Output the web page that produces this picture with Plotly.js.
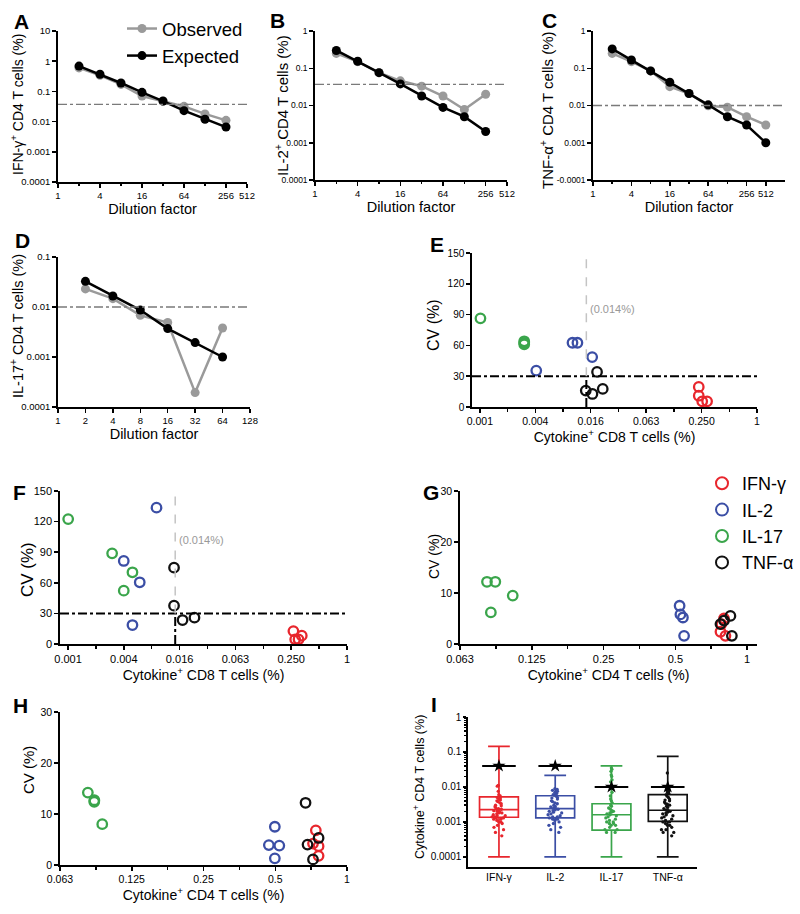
<!DOCTYPE html>
<html><head><meta charset="utf-8">
<script src="https://cdn.plot.ly/plotly-3.0.1.min.js"></script>
<style>body{margin:0;background:#fff}#chart{width:800px;height:914px}</style>
</head><body><div id="chart"></div>
<script>
// ---------- Panels A-D: dilution series ----------
const dilA = [2,4,8,16,32,64,128,256];
const obsA = [0.6,0.34,0.17,0.07,0.047,0.032,0.018,0.011];
const expA = [0.69,0.37,0.19,0.093,0.048,0.023,0.012,0.0066];
const lodA = 0.037;
const dilB = [2,4,8,16,32,64,128,256];
const obsB = [0.25,0.15,0.076,0.046,0.033,0.018,0.0078,0.02];
const expB = [0.30,0.154,0.076,0.038,0.018,0.0089,0.005,0.002];
const lodB = 0.037;
const dilC = [2,4,8,16,32,64,128,256,512];
const obsC = [0.25,0.15,0.085,0.032,0.021,0.0098,0.009,0.005,0.003];
const expC = [0.33,0.166,0.085,0.042,0.021,0.0104,0.005,0.003,0.001];
const lodC = 0.01;
const dilD = [2,4,8,16,32,64];
const obsD = [0.023,0.0147,0.0068,0.0049,0.000194,0.0038];
const expD = [0.0326,0.0166,0.0087,0.0037,0.00194,0.001];
const lodD = 0.01;

// ---------- Panels E-H: CV vs cytokine+ % ----------
const cytokines = ['IFN-γ','IL-2','IL-17','TNF-α'];
const eIFNx = [0.233,0.233,0.254,0.287], eIFNy = [19.6,11,5.5,5.5];
const eIL2x = [0.004,0.0099,0.0112,0.0162], eIL2y = [35.5,62.6,62.6,48.6];
const eIL17x = [0.00099,0.00296,0.00296,0.00296], eIL17y = [86.4,64,62.5,61];
const eTNFx = [0.0138,0.0163,0.0183,0.0211], eTNFy = [16,12.7,34.2,17.6];

const fIFNx = [0.264,0.276,0.3,0.325], fIFNy = [12.7,4.6,4.6,8.2];
const fIL2x = [0.0088,0.0039,0.0058,0.00484], fIL2y = [133.7,81.4,60.5,18.6];
const fIL17x = [0.00098,0.00292,0.00484,0.0039], fIL17y = [122.5,88.9,70.3,52.3];
const fTNFx = [0.0136,0.0136,0.0168,0.0226], fTNFy = [74.8,37.6,23.5,25.8];

const gIFNx = [0.773,0.811,0.80,0.78], gIFNy = [2.4,1.6,5.0,3.9];
const gIL2x = [0.521,0.525,0.538,0.544], gIL2y = [7.5,5.8,5.2,1.6];
const gIL17x = [0.0811,0.0879,0.0842,0.104], gIL17y = [12.2,12.2,6.2,9.5];
const gTNFx = [0.773,0.8,0.851,0.863], gTNFy = [3.9,4.6,5.5,1.6];

const hIFNx = [0.74,0.72,0.76,0.76], hIFNy = [6.8,4.2,3.7,1.8];
const hIL2x = [0.498,0.47,0.52,0.498], hIL2y = [7.5,3.9,3.8,1.3];
const hIL17x = [0.0818,0.0871,0.087,0.094], hIL17y = [14.2,12.7,12.4,8.0];
const hTNFx = [0.67,0.683,0.76,0.72], hTNFy = [12.2,4.0,5.3,1.1];

const cvCut = 30;
const lodCD8 = 0.014;

// ---------- Panel I: box plots ----------
const boxQ1 = [0.00136,0.0013,0.00058,0.00104];
const boxMed = [0.00225,0.0024,0.0016,0.00215];
const boxQ3 = [0.0052,0.0056,0.0033,0.006];
const boxLo = [0.0001,0.0001,0.0001,0.0001];
const boxHi = [0.145,0.0215,0.04,0.075];
const boxRef = [0.04,0.04,0.01,0.01];
const dotsIFN = [0.011,0.0105,0.0075,0.006,0.0055,0.005,0.0048,0.0045,0.0042,0.004,0.0038,0.0035,0.0033,0.003,0.0029,0.0027,0.0025,0.0024,0.0023,0.0022,0.0021,0.0021,0.002,0.0019,0.0018,0.0018,0.0017,0.0016,0.0015,0.0015,0.0014,0.0014,0.0013,0.0013,0.0012,0.0012,0.0011,0.001,0.001,0.0009,0.0008,0.0007,0.0006,0.0005,0.0004];
const dotsIL2 = [0.009,0.0085,0.008,0.0075,0.007,0.0065,0.006,0.0058,0.0055,0.005,0.0048,0.0045,0.004,0.0038,0.0035,0.0033,0.003,0.0028,0.0027,0.0025,0.0024,0.0023,0.0022,0.0021,0.002,0.0019,0.0018,0.0017,0.0016,0.0015,0.0014,0.0014,0.0013,0.0012,0.0012,0.0011,0.001,0.0009,0.0008,0.0007,0.0006,0.0005];
const dotsIL17 = [0.035,0.032,0.028,0.022,0.02,0.016,0.014,0.007,0.0055,0.0045,0.004,0.0035,0.003,0.0028,0.0025,0.0023,0.0021,0.002,0.0019,0.0018,0.0017,0.0016,0.0015,0.0014,0.0013,0.0012,0.0011,0.001,0.001,0.0009,0.0009,0.0008,0.0008,0.0007,0.0006,0.0006,0.0005,0.0005];
const dotsTNF = [0.025,0.01,0.009,0.008,0.0075,0.007,0.0065,0.006,0.0055,0.005,0.0045,0.0042,0.004,0.0037,0.0034,0.0032,0.003,0.0028,0.0026,0.0024,0.0022,0.0021,0.002,0.0019,0.0018,0.0017,0.0016,0.0015,0.0014,0.0013,0.0012,0.0011,0.001,0.001,0.0009,0.0008,0.0008,0.0007,0.0006,0.0006,0.0005,0.0005,0.0004];

// ---------- styling ----------
const F = 'Liberation Sans, Arial, sans-serif';
const COL = {'IFN-γ':'#e8262d','IL-2':'#3b4ea5','IL-17':'#3aa54b','TNF-α':'#111111'};
const GREY = '#9a9a9a';
const W = 800, H = 914;
const dx = (a,b) => [a/W, b/W];
const dy = (t,b) => [1-b/H, 1-t/H];
const tf = s => ({family:F,size:s,color:'#000'});

function ax(o){
  return Object.assign({showline:true, linecolor:'#000', linewidth:1.7, ticks:'outside', ticklen:4,
    tickwidth:1.5, tickcolor:'#000', showgrid:false, zeroline:false, fixedrange:true, tickangle:0,
    tickfont:tf(9.5), automargin:false}, o);
}
function ttl(text,size,standoff){ return {text:text, font:tf(size), standoff:standoff}; }

const traces = [];
function dil(n, xs, obs, exp, leg){
  const xa = 'x'+(n===1?'':n), ya = 'y'+(n===1?'':n);
  traces.push({type:'scatter', mode:'lines+markers', x:xs, y:obs, xaxis:xa, yaxis:ya, name:'Observed',
    line:{color:GREY,width:2.5}, marker:{color:GREY,size:9}, showlegend:leg, legend:'legend', hoverinfo:'skip'});
  traces.push({type:'scatter', mode:'lines+markers', x:xs, y:exp, xaxis:xa, yaxis:ya, name:'Expected',
    line:{color:'#000',width:2.5}, marker:{color:'#000',size:9}, showlegend:leg, legend:'legend', hoverinfo:'skip'});
}
dil(1, dilA, obsA, expA, true);
dil(2, dilB, obsB, expB, false);
dil(3, dilC, obsC, expC, false);
dil(4, dilD, obsD, expD, false);

function cv(n, sets, leg){
  sets.forEach((s,i)=>{
    traces.push({type:'scatter', mode:'markers', x:s[0], y:s[1], xaxis:'x'+n, yaxis:'y'+n,
      name:cytokines[i], marker:{symbol:'circle-open', size:9.5, color:COL[cytokines[i]], line:{width:2.3,color:COL[cytokines[i]]}},
      showlegend:leg, legend:'legend2', hoverinfo:'skip', cliponaxis:false});
  });
}
cv(5, [[eIFNx,eIFNy],[eIL2x,eIL2y],[eIL17x,eIL17y],[eTNFx,eTNFy]], false);
cv(6, [[fIFNx,fIFNy],[fIL2x,fIL2y],[fIL17x,fIL17y],[fTNFx,fTNFy]], false);
cv(7, [[gIFNx,gIFNy],[gIL2x,gIL2y],[gIL17x,gIL17y],[gTNFx,gTNFy]], true);
cv(8, [[hIFNx,hIFNy],[hIL2x,hIL2y],[hIL17x,hIL17y],[hTNFx,hTNFy]], false);

const dotSets = [dotsIFN, dotsIL2, dotsIL17, dotsTNF];
cytokines.forEach((c,i)=>{
  traces.push({type:'box', x:[c], q1:[boxQ1[i]], median:[boxMed[i]], q3:[boxQ3[i]],
    lowerfence:[boxLo[i]], upperfence:[boxHi[i]], xaxis:'x9', yaxis:'y9', boxpoints:false,
    width:0.69, whiskerwidth:0.56, line:{color:COL[c],width:1.7}, fillcolor:'rgba(0,0,0,0)',
    showlegend:false, hoverinfo:'skip'});
});
cytokines.forEach((c,i)=>{
  traces.push({type:'box', x:dotSets[i].map(()=>c), y:dotSets[i], xaxis:'x9', yaxis:'y9',
    boxpoints:'all', jitter:0.4, pointpos:0, width:0.69, line:{color:'rgba(0,0,0,0)',width:0},
    fillcolor:'rgba(0,0,0,0)', marker:{color:COL[c],size:3.3}, showlegend:false, hoverinfo:'skip'});
});
traces.push({type:'scatter', mode:'markers', x:cytokines, y:boxRef, xaxis:'x9', yaxis:'y9',
  marker:{symbol:'line-ew', size:24, line:{width:2,color:'#000'}}, showlegend:false, hoverinfo:'skip'});
traces.push({type:'scatter', mode:'markers', x:cytokines, y:boxRef, xaxis:'x9', yaxis:'y9',
  marker:{symbol:'star', size:10, color:'#000'}, showlegend:false, hoverinfo:'skip'});

// ---------- axes ----------
const L = Math.log10;
const p2 = [2**-10,2**-8,2**-6,2**-4,2**-2,1];
const p2t = ['0.001','0.004','0.016','0.063','0.250','1'];
const p2m = [2**-9,2**-7,2**-5,2**-3,2**-1];
const g2 = [0.0625,0.125,0.25,0.5,1];
const g2t = ['0.063','0.125','0.25','0.5','1'];
const g2m = [0.0884,0.1768,0.3536,0.7071];
const logMinor = [];
for (let e=-4; e<0; e++) for (let k=2; k<10; k++) logMinor.push(k*10**e);

const layout = {
  width:W, height:H, margin:{l:0,r:0,t:0,b:0}, paper_bgcolor:'#fff', plot_bgcolor:'rgba(0,0,0,0)',
  font:{family:F,color:'#000'}, boxmode:'overlay', showlegend:true, hovermode:false,
  legend:{x:122/W, y:1-10/H, xanchor:'left', yanchor:'top', bgcolor:'rgba(0,0,0,0)',
    font:tf(18.5), tracegroupgap:0},
  legend2:{x:702/W, y:1-465/H, xanchor:'left', yanchor:'top', bgcolor:'rgba(0,0,0,0)',
    font:tf(18), itemsizing:'constant', tracegroupgap:0},

  xaxis: ax({type:'log', domain:dx(58,247), range:[0,L(512)], anchor:'y',
    tickvals:[1,4,16,64,256,512], ticktext:['1','4','16','64','256','512'],
    minor:{tickvals:[2,8,32,128], ticks:'outside', ticklen:2.5, tickcolor:'#000'},
    title:ttl('Dilution factor',14.5,2)}),
  yaxis: ax({type:'log', domain:dy(31,182), range:[-4,1], anchor:'x',
    tickvals:[1e-4,1e-3,1e-2,0.1,1,10], ticktext:['0.0001','0.001','0.01','0.1','1','10']}),

  xaxis2: ax({type:'log', domain:dx(315,507), range:[0,L(512)], anchor:'y2',
    tickvals:[1,4,16,64,256,512], ticktext:['1','4','16','64','256','512'],
    minor:{tickvals:[2,8,32,128], ticks:'outside', ticklen:2.5, tickcolor:'#000'},
    title:ttl('Dilution factor',14.5,2)}),
  yaxis2: ax({type:'log', domain:dy(31,180), range:[-4,0], anchor:'x2', tickfont:tf(8.5),
    tickvals:[1e-4,1e-3,1e-2,0.1,1], ticktext:['0.0001','0.001','0.01','0.1','1']}),

  xaxis3: ax({type:'log', domain:dx(593,785), range:[0,L(1024)], anchor:'y3',
    tickvals:[1,4,16,64,256,512], ticktext:['1','4','16','64','256','512'],
    minor:{tickvals:[2,8,32,128], ticks:'outside', ticklen:2.5, tickcolor:'#000'},
    title:ttl('Dilution factor',14.5,2)}),
  yaxis3: ax({type:'log', domain:dy(31,180), range:[-4,0], anchor:'x3', tickfont:tf(8.5),
    tickvals:[1e-4,1e-3,1e-2,0.1,1], ticktext:['-0.0001','0.001','0.01','0.1','1']}),

  xaxis4: ax({type:'log', domain:dx(58,250), range:[0,L(128)], anchor:'y4',
    tickvals:[1,2,4,8,16,32,64,128], ticktext:['1','2','4','8','16','32','64','128'],
    title:ttl('Dilution factor',14.5,2)}),
  yaxis4: ax({type:'log', domain:dy(257,407), range:[-4,-1], anchor:'x4',
    tickvals:[1e-4,1e-3,1e-2,0.1], ticktext:['0.0001','0.001','0.01','0.1']}),

  xaxis5: ax({type:'log', domain:dx(472,757), range:[-3.096,0], anchor:'y5',
    tickvals:p2, ticktext:p2t, tickfont:tf(10.5),
    minor:{tickvals:p2m, ticks:'outside', ticklen:3, tickcolor:'#000'},
    title:ttl('Cytokine<sup>+</sup> CD8 T cells (%)',14,2)}),
  yaxis5: ax({domain:dy(253,407), range:[0,150], anchor:'x5', tickvals:[0,30,60,90,120,150], tickfont:tf(10)}),

  xaxis6: ax({type:'log', domain:dx(60,347), range:[-3.097,0], anchor:'y6',
    tickvals:p2, ticktext:p2t, tickfont:tf(11),
    minor:{tickvals:p2m, ticks:'outside', ticklen:3, tickcolor:'#000'},
    title:ttl('Cytokine<sup>+</sup> CD8 T cells (%)',14,2)}),
  yaxis6: ax({domain:dy(491,644), range:[0,150], anchor:'x6', tickvals:[0,30,60,90,120,150], tickfont:tf(11)}),

  xaxis7: ax({type:'log', domain:dx(460,757), range:[L(0.0625),L(1.1)], anchor:'y7',
    tickvals:g2, ticktext:g2t, tickfont:tf(11),
    minor:{tickvals:g2m, ticks:'outside', ticklen:3, tickcolor:'#000'},
    title:ttl('Cytokine<sup>+</sup> CD4 T cells (%)',14,2)}),
  yaxis7: ax({domain:dy(491,644), range:[0,30], anchor:'x7', tickvals:[0,10,20,30], tickfont:tf(10.5)}),

  xaxis8: ax({type:'log', domain:dx(60,347), range:[L(0.0625),0], anchor:'y8',
    tickvals:g2, ticktext:g2t, tickfont:tf(10.5),
    minor:{tickvals:g2m, ticks:'outside', ticklen:3, tickcolor:'#000'},
    title:ttl('Cytokine<sup>+</sup> CD4 T cells (%)',14,2)}),
  yaxis8: ax({domain:dy(712,865), range:[0,30], anchor:'x8', tickvals:[0,10,20,30], tickfont:tf(10.5)}),

  xaxis9: ax({type:'category', domain:dx(468,697), range:[-0.55,3.52], anchor:'y9',
    ticks:'', tickfont:tf(10.5)}),
  yaxis9: ax({type:'log', domain:dy(717,867), range:[-4.29,0], anchor:'x9',
    tickvals:[1e-4,1e-3,1e-2,0.1,1], ticktext:['0.0001','0.001','0.01','0.1','1'],
    tickfont:tf(10), ticklen:3,
    minor:{tickvals:logMinor, ticks:'outside', ticklen:2, tickcolor:'#000'}}),

  shapes: [],
  annotations: []
};

// y-axis titles (rotated text placed beside each axis)
[['IFN-γ<sup>+</sup> CD4 T cells (%)',17,105,14],
 ['IL-2<sup>+</sup> CD4 T cells (%)',281,106,15],
 ['TNF-α<sup>+</sup> CD4 T cells (%)',547,110,15],
 ['IL-17<sup>+</sup> CD4 T cells (%)',17,326,14.5],
 ['CV (%)',434,325,16],
 ['CV (%)',27,570,17],
 ['CV (%)',434,557,14],
 ['CV (%)',28,770,15],
 ['Cytokine<sup>+</sup> CD4 T cells (%)',419,787,12.5]]
 .forEach(([t,x,y,s])=>layout.annotations.push({xref:'paper', yref:'paper', x:x/W, y:1-y/H, text:t,
   textangle:-90, showarrow:false, xanchor:'center', yanchor:'middle', font:tf(s)}));

// detection-limit lines
[[ '', lodA],['2',lodB],['3',lodC],['4',lodD]].forEach(([s,v])=>{
  layout.shapes.push({type:'line', xref:'x'+s+' domain', x0:0, x1:1, yref:'y'+s, y0:v, y1:v,
    line:{color:'#7a7a7a', width:1.3, dash:'dashdot'}});
});
['5','6'].forEach(s=>{
  layout.shapes.push({type:'line', xref:'x'+s+' domain', x0:0, x1:1, yref:'y'+s, y0:cvCut, y1:cvCut,
    line:{color:'#000', width:2, dash:'dashdot'}});
  layout.shapes.push({type:'line', xref:'x'+s, x0:lodCD8, x1:lodCD8, yref:'y'+s, y0:0, y1:cvCut,
    line:{color:'#000', width:2, dash:'dashdot'}});
  layout.shapes.push({type:'line', xref:'x'+s, x0:lodCD8, x1:lodCD8, yref:'y'+s, y0:cvCut, y1:150,
    line:{color:'#c4c4c4', width:1.5, dash:'dash'}});
});
layout.annotations.push({xref:'x5', yref:'y5', x:L(lodCD8), y:95, text:'(0.014%)', showarrow:false,
  xanchor:'left', xshift:2, font:{family:F,size:11,color:'#999'}});
layout.annotations.push({xref:'x6', yref:'y6', x:L(lodCD8), y:102, text:'(0.014%)', showarrow:false,
  xanchor:'left', xshift:2, font:{family:F,size:11,color:'#999'}});

// panel letters
[['A',21,22],['B',277,20],['C',549,20],['D',22,240],['E',437,245],['F',19,493],['G',431,493],['H',20,705],['I',434,704]]
  .forEach(([t,x,y])=>layout.annotations.push({xref:'paper', yref:'paper', x:x/W, y:1-y/H, text:'<b>'+t+'</b>',
    showarrow:false, xanchor:'center', yanchor:'middle', font:tf(21)}));

Plotly.newPlot('chart', traces, layout, {staticPlot:true, displayModeBar:false});
</script>
</body></html>
